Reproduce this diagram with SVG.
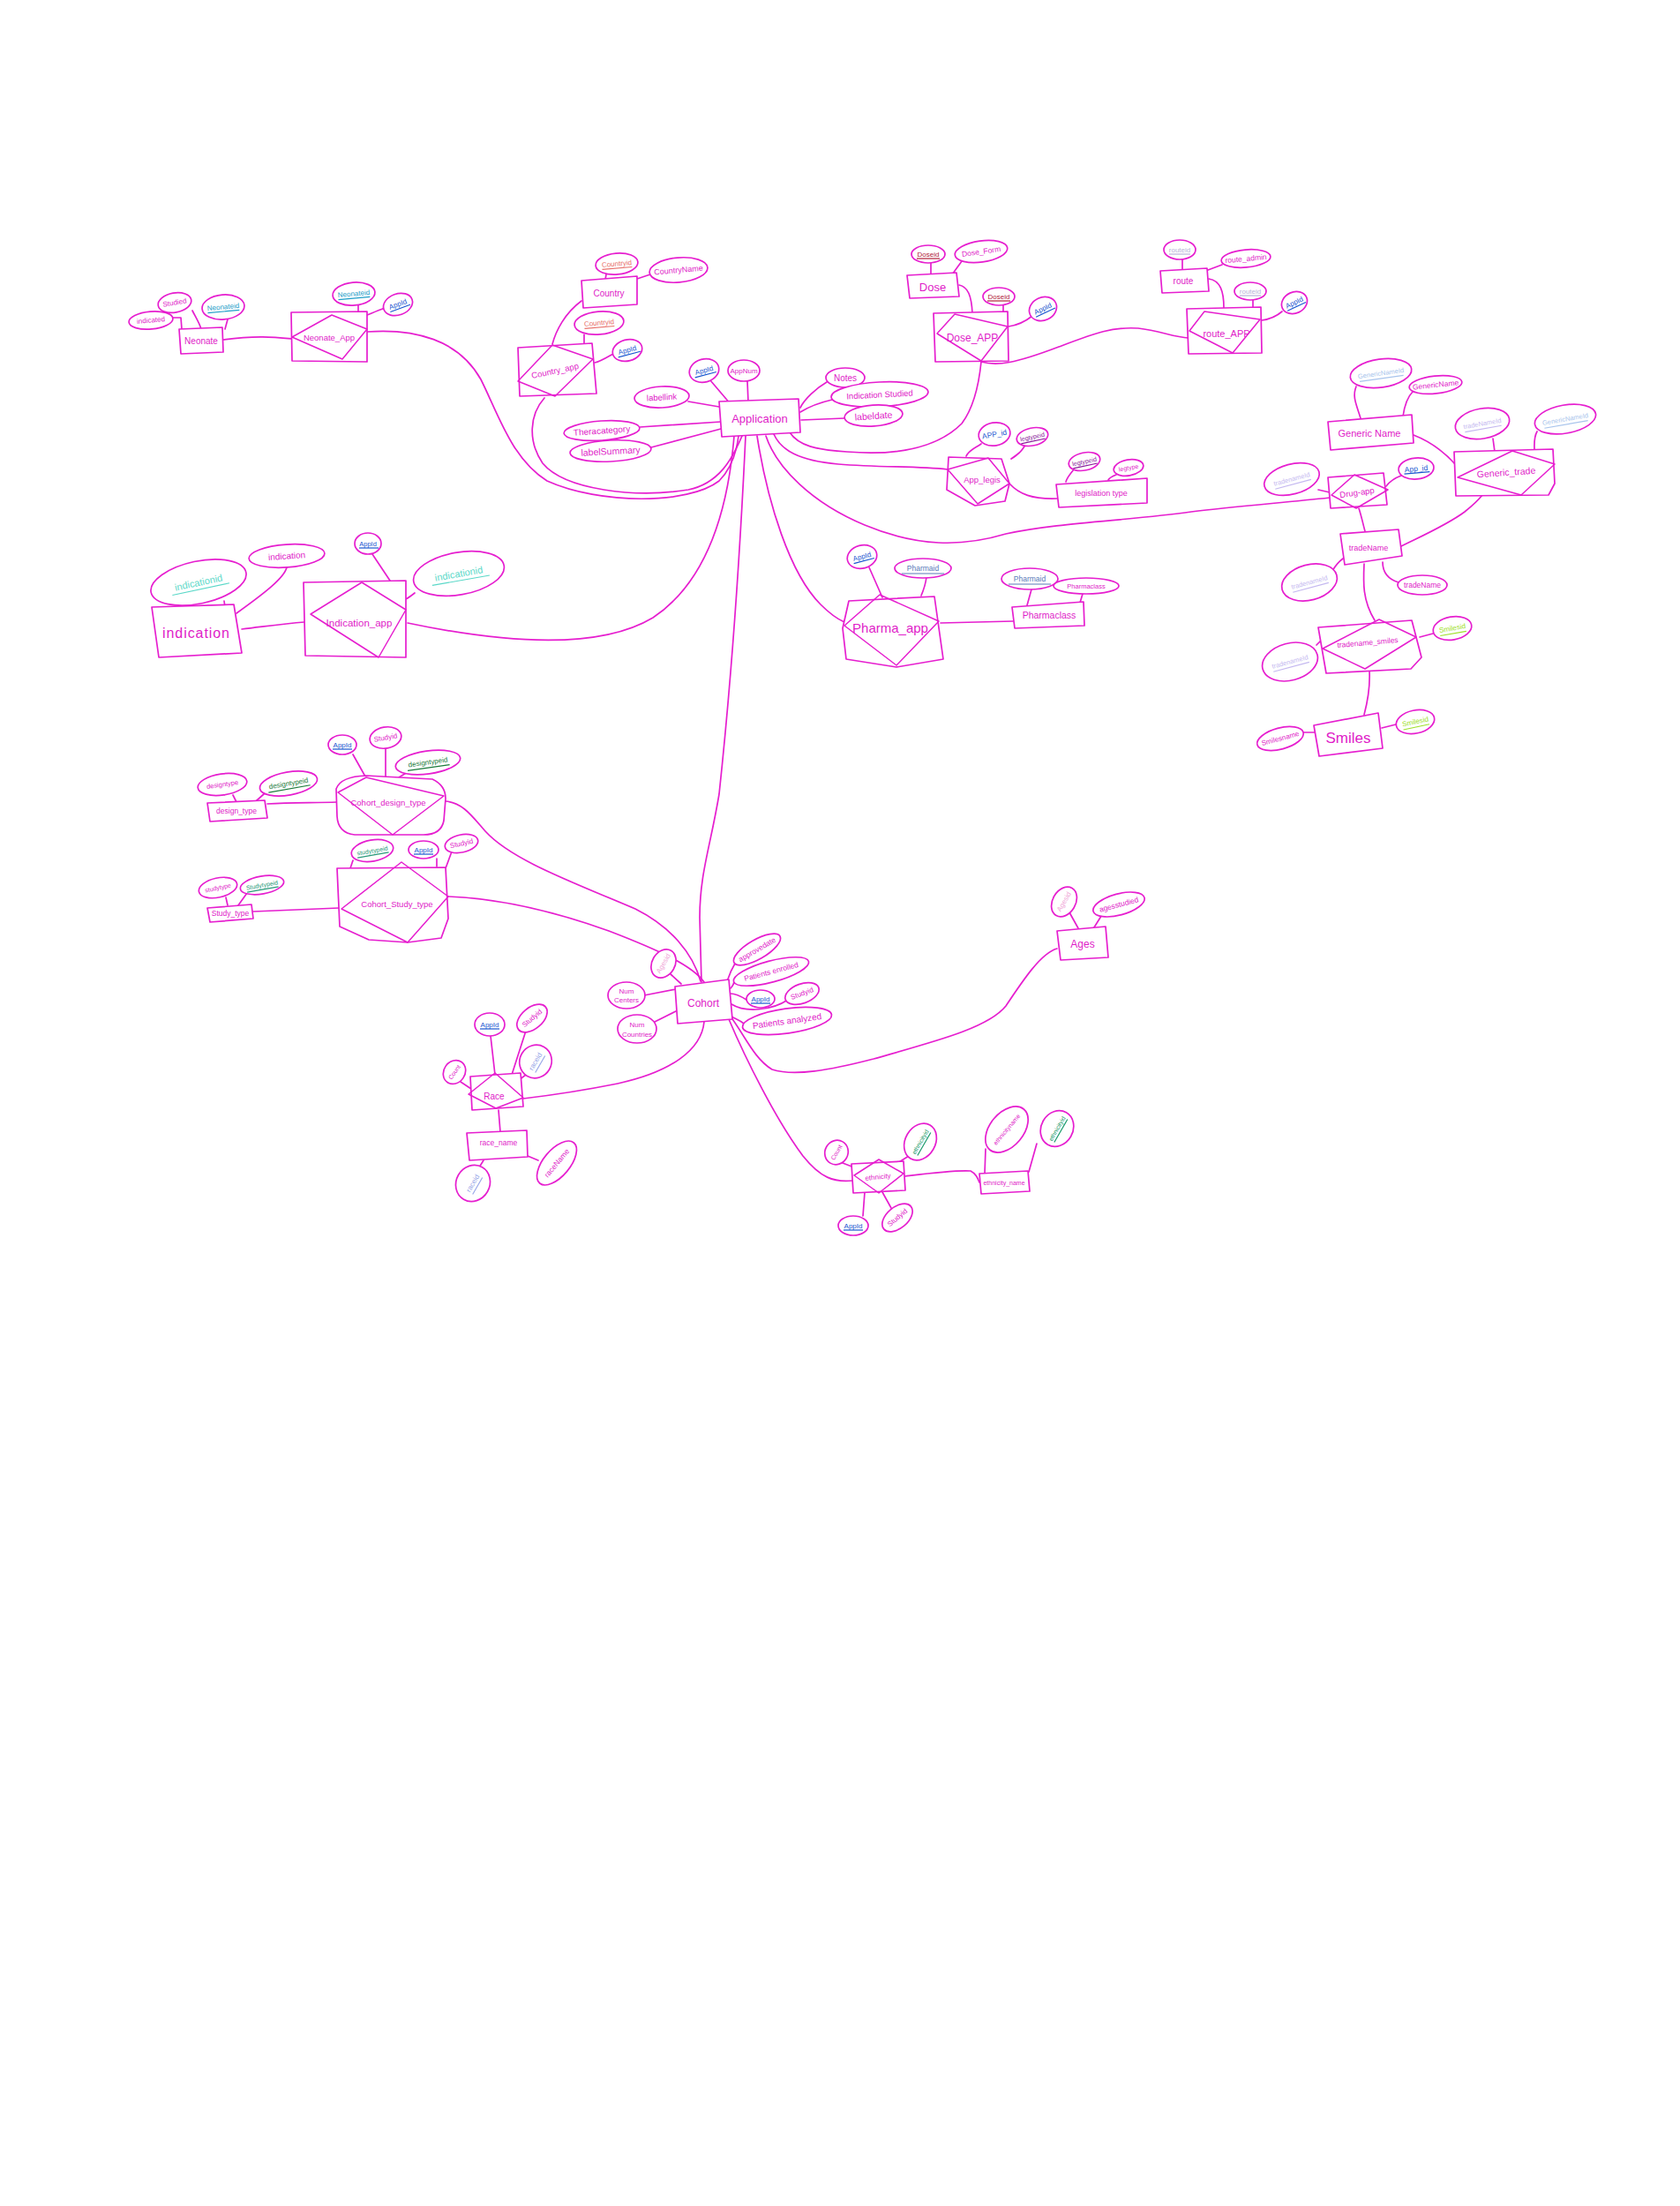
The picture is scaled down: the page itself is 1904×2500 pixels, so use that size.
<svg xmlns="http://www.w3.org/2000/svg" width="1904" height="2500" viewBox="0 0 1904 2500">
<style>
.l{fill:none;stroke:#e61ecf;stroke-width:1.7;stroke-linecap:round;stroke-linejoin:round}
.e{fill:#fff;stroke:#e61ecf;stroke-width:1.7}
.b{fill:#fff;stroke:#e61ecf;stroke-width:1.7;stroke-linejoin:round}
.d{fill:none;stroke:#e61ecf;stroke-width:1.5;stroke-linejoin:round}
.t{font-family:"Liberation Sans",sans-serif;fill:#e01cc8;text-anchor:middle;dominant-baseline:central}
.u{stroke-width:1.2}
</style>
<rect x="0" y="0" width="1904" height="2500" fill="#fff"/>
<g id="connectors" class="l">
<path d="M218,352 C222,360 226,366 228,373"/>
<path d="M196,360 L205,360 L206,373"/>
<path d="M258,362 L255,373"/>
<path d="M253,385 C290,380 310,382 331,384"/>
<path d="M406,346 L406,357"/>
<path d="M436,349 C428,352 421,355 416,357"/>
<path d="M416,376 C470,372 520,385 545,430 C565,470 580,520 620,545 C680,572 780,572 815,545 C830,530 835,510 837,494"/>
<path d="M687,311 L686,317"/>
<path d="M737,311 L722,316"/>
<path d="M659,341 C640,355 630,375 626,390"/>
<path d="M662,379 L662,390"/>
<path d="M695,401 C688,405 680,410 674,411"/>
<path d="M617,451 C600,470 598,500 615,525 C640,555 720,565 780,555 C815,548 830,520 841,494"/>
<path d="M780,455 L815,461"/>
<path d="M805,431 L828,458"/>
<path d="M847,432 L848,456"/>
<path d="M725,484 L817,478"/>
<path d="M738,507 L817,486"/>
<path d="M937,433 C925,440 912,452 907,462"/>
<path d="M943,453 C930,456 915,462 907,467"/>
<path d="M957,474 L908,476"/>
<path d="M832,494 C825,580 800,660 740,700 C690,730 600,735 462,706"/>
<path d="M845,494 C840,600 830,760 815,900 C805,960 793,990 793,1040 L795,1113"/>
<path d="M858,494 C870,570 895,650 930,685 C940,695 950,702 957,705"/>
<path d="M895,490 C905,505 925,510 960,512 C1010,516 1060,510 1090,480 C1105,460 1110,430 1112,410"/>
<path d="M877,492 C885,510 905,522 950,526 C1000,530 1040,528 1074,532"/>
<path d="M1112,410 C1130,415 1150,412 1200,393 C1240,378 1260,370 1290,372 C1315,375 1330,382 1347,383"/>
<path d="M868,494 C880,530 920,570 980,595 C1040,620 1090,620 1140,605 C1200,592 1280,590 1350,580 C1400,574 1450,570 1507,564"/>
<path d="M1055,298 L1055,311"/>
<path d="M1090,296 C1085,303 1082,307 1080,310"/>
<path d="M1087,323 C1097,325 1101,335 1102,355"/>
<path d="M1137,346 L1137,356"/>
<path d="M1170,358 C1160,366 1150,369 1143,370"/>
<path d="M1340,294 L1340,306"/>
<path d="M1385,300 L1369,306"/>
<path d="M1370,316 C1383,318 1387,330 1387,349"/>
<path d="M1420,340 L1420,350"/>
<path d="M1453,353 C1445,360 1437,362 1430,363"/>
<path d="M1112,503 C1105,508 1098,510 1095,517"/>
<path d="M1162,504 C1158,512 1152,516 1146,520"/>
<path d="M1144,548 C1155,560 1170,566 1198,565"/>
<path d="M1217,532 C1212,538 1209,542 1208,546"/>
<path d="M1265,538 C1260,540 1257,542 1256,544"/>
<path d="M1537,438 C1532,450 1538,460 1542,474"/>
<path d="M1601,444 C1593,452 1591,465 1590,472"/>
<path d="M1602,493 C1620,500 1635,510 1650,527"/>
<path d="M1692,497 L1694,512"/>
<path d="M1742,489 C1738,496 1739,504 1739,510"/>
<path d="M1494,555 L1507,558"/>
<path d="M1588,539 C1580,542 1574,547 1571,551"/>
<path d="M1540,576 C1543,585 1545,595 1547,602"/>
<path d="M1586,620 C1610,608 1640,595 1660,580 C1670,572 1676,566 1680,561"/>
<path d="M1510,647 C1514,640 1518,636 1522,633"/>
<path d="M1585,660 C1572,656 1567,648 1567,637"/>
<path d="M1546,639 C1545,660 1544,680 1558,703"/>
<path d="M1492,731 L1499,724"/>
<path d="M1624,718 L1609,722"/>
<path d="M1552,760 C1553,780 1550,795 1546,810"/>
<path d="M1582,821 L1566,825"/>
<path d="M1477,830 L1492,830"/>
<path d="M254,681 L255,688"/>
<path d="M325,643 C322,655 300,672 268,695"/>
<path d="M274,713 C300,710 320,707 345,705"/>
<path d="M422,628 L442,658"/>
<path d="M470,672 C465,676 462,678 460,679"/>
<path d="M985,643 L1000,677"/>
<path d="M1050,654 C1049,662 1047,668 1044,675"/>
<path d="M1066,706 L1148,704"/>
<path d="M1169,668 L1164,686"/>
<path d="M1227,673 L1224,683"/>
<path d="M303,911 C330,909 355,910 382,909"/>
<path d="M264,901 L268,909"/>
<path d="M300,899 L290,908"/>
<path d="M400,855 L414,880"/>
<path d="M437,848 L437,880"/>
<path d="M462,875 L452,881"/>
<path d="M505,908 C525,910 535,925 550,942 C580,975 650,1000 720,1030 C760,1050 785,1080 794,1112"/>
<path d="M400,975 L397,984"/>
<path d="M495,973 L495,982"/>
<path d="M512,965 L505,984"/>
<path d="M287,1033 L384,1029"/>
<path d="M256,1017 L258,1026"/>
<path d="M280,1012 L270,1026"/>
<path d="M508,1016 C560,1018 620,1030 690,1055 C750,1078 785,1095 798,1113"/>
<path d="M760,1104 L772,1115"/>
<path d="M730,1128 L766,1121"/>
<path d="M742,1158 L766,1146"/>
<path d="M834,1090 C828,1100 826,1106 824,1112"/>
<path d="M832,1111 C832,1116 830,1118 828,1120"/>
<path d="M846,1133 C838,1128 832,1126 828,1126"/>
<path d="M893,1133 C875,1145 845,1148 829,1138"/>
<path d="M843,1160 C838,1156 832,1154 829,1152"/>
<path d="M1212,1034 L1222,1052"/>
<path d="M1250,1035 L1240,1051"/>
<path d="M1198,1075 C1180,1080 1160,1110 1140,1140 C1120,1165 1060,1180 990,1200 C940,1213 900,1220 875,1212 C855,1200 845,1175 828,1152"/>
<path d="M798,1158 C795,1190 760,1215 700,1228 C650,1238 610,1243 593,1245"/>
<path d="M556,1174 L561,1218"/>
<path d="M597,1165 L580,1218"/>
<path d="M596,1218 L588,1224"/>
<path d="M522,1226 L534,1234"/>
<path d="M565,1258 L567,1283"/>
<path d="M598,1310 L610,1315"/>
<path d="M548,1315 L543,1323"/>
<path d="M826,1155 C845,1200 880,1270 910,1310 C930,1335 945,1340 966,1338"/>
<path d="M955,1318 L968,1323"/>
<path d="M1030,1310 L1014,1320"/>
<path d="M980,1351 L978,1378"/>
<path d="M1000,1351 L1010,1369"/>
<path d="M1026,1333 C1050,1330 1080,1326 1100,1327 C1106,1330 1108,1335 1110,1340"/>
<path d="M1117,1302 L1116,1330"/>
<path d="M1175,1296 L1166,1328"/>
</g>

<!-- entities and relationships -->
<g id="Neonate"><path class="b" d="M203,373 L252,371 L253,399 L205,401 Z"/><text class="t" x="228" y="386" font-size="10">Neonate</text></g>
<g id="Neonate_App"><path class="b" d="M330,354 L416,353 L416,410 L331,409 Z"/><path class="d" d="M331,382 L376,357 L416,373 L388,407 Z"/><text class="t" x="373" y="382" font-size="9.5">Neonate_App</text></g>
<g id="Country"><path class="b" d="M659,318 L722,313 L722,345 L661,349 Z"/><text class="t" x="690" y="332" font-size="10">Country</text></g>
<g id="Country_app"><path class="b" d="M587,394 L671,389 L676,446 L589,449 Z"/><path class="d" d="M587,432 L626,391 L672,407 L629,449 Z"/><text class="t" x="629" y="420" font-size="9.5" transform="rotate(-12 629 420)">Country_app</text></g>
<g id="Application"><path class="b" d="M815,455 L905,452 L907,490 L818,495 Z"/><text class="t" x="861" y="474" font-size="13">Application</text></g>
<g id="Dose"><path class="b" d="M1028,312 L1084,309 L1087,336 L1031,338 Z"/><text class="t" x="1057" y="325" font-size="13">Dose</text></g>
<g id="Dose_APP"><path class="b" d="M1058,355 L1142,353 L1143,409 L1060,410 Z"/><path class="d" d="M1062,378 L1082,356 L1142,370 L1112,409 Z"/><text class="t" x="1102" y="383" font-size="12">Dose_APP</text></g>
<g id="route"><path class="b" d="M1315,307 L1368,304 L1370,330 L1317,332 Z"/><text class="t" x="1341" y="318" font-size="10">route</text></g>
<g id="route_APP"><path class="b" d="M1345,350 L1429,348 L1430,400 L1347,401 Z"/><path class="d" d="M1348,375 L1365,353 L1428,362 L1397,400 Z"/><text class="t" x="1390" y="378" font-size="11">route_APP</text></g>
<g id="App_legis"><path class="b" d="M1075,518 L1135,520 L1144,548 L1139,568 L1105,573 L1073,555 Z"/><path class="d" d="M1074,532 L1120,519 L1144,548 L1108,571 Z"/><text class="t" x="1113" y="543" font-size="9.5">App_legis</text></g>
<g id="legislation_type"><path class="b" d="M1197,549 L1300,542 L1300,570 L1200,575 Z"/><text class="t" x="1248" y="559" font-size="9">legislation type</text></g>
<g id="Generic_Name"><path class="b" d="M1505,478 L1600,470 L1602,502 L1508,510 Z"/><text class="t" x="1552" y="491" font-size="11">Generic Name</text></g>
<g id="Generic_trade"><path class="b" d="M1648,512 L1760,509 L1762,548 L1755,561 L1650,562 Z"/><path class="d" d="M1652,541 L1714,511 L1762,526 L1724,561 Z"/><text class="t" x="1707" y="535" font-size="10.5" transform="rotate(-4 1707 535)">Generic_trade</text></g>
<g id="Drug_app"><path class="b" d="M1505,541 L1568,536 L1572,572 L1508,576 Z"/><path class="d" d="M1509,561 L1535,538 L1573,555 L1537,576 Z"/><text class="t" x="1538" y="558" font-size="9.5" transform="rotate(-8 1538 558)">Drug-app</text></g>
<g id="tradeName"><path class="b" d="M1519,605 L1585,600 L1589,630 L1524,640 Z"/><text class="t" x="1551" y="621" font-size="9">tradeName</text></g>
<g id="tradename_smiles"><path class="b" d="M1494,711 L1600,703 L1611,745 L1599,758 L1503,763 Z"/><path class="d" d="M1499,735 L1563,702 L1605,722 L1547,758 Z"/><text class="t" x="1550" y="728" font-size="8.5" transform="rotate(-5 1550 728)">tradename_smiles</text></g>
<g id="Smiles"><path class="b" d="M1489,822 L1562,808 L1567,848 L1495,857 Z"/><text class="t" x="1528" y="836" font-size="17">Smiles</text></g>
<g id="indication"><path class="b" d="M172,688 L265,685 L274,740 L180,745 Z"/><text class="t" x="222" y="717" font-size="16" textLength="76">indication</text></g>
<g id="Indication_app"><path class="b" d="M344,660 L460,658 L460,745 L346,743 Z"/><path class="d" d="M352,696 L410,660 L460,691 L429,745 Z"/><text class="t" x="407" y="706" font-size="11.5">Indication_app</text></g>
<g id="Pharma_app"><path class="b" d="M962,681 L1059,676 L1069,747 L1016,756 L959,747 L955,712 Z"/><path class="d" d="M957,709 L997,674 L1064,704 L1016,754 Z"/><text class="t" x="1009" y="711" font-size="15">Pharma_app</text></g>
<g id="Pharmaclass"><path class="b" d="M1147,688 L1228,682 L1229,709 L1150,712 Z"/><text class="t" x="1189" y="697" font-size="10.5">Pharmaclass</text></g>
<g id="design_type"><path class="b" d="M235,910 L300,907 L303,927 L238,931 Z"/><text class="t" x="268" y="919" font-size="8.5">design_type</text></g>
<g id="Cohort_design_type"><path class="b" d="M381,894 Q386,880 415,879 L490,883 Q505,890 505,905 L503,930 Q500,946 480,946 L402,946 Q383,944 382,925 Z"/><path class="d" d="M383,898 L415,881 L503,902 L445,946 Z"/><text class="t" x="440" y="909" font-size="9.5">Cohort_design_type</text></g>
<g id="Study_type"><path class="b" d="M235,1029 L285,1025 L287,1041 L238,1045 Z"/><text class="t" x="261" y="1035" font-size="8.5">Study_type</text></g>
<g id="Cohort_Study_type"><path class="b" d="M382,984 L505,983 L508,1041 L500,1063 L462,1068 L418,1065 L385,1050 Z"/><path class="d" d="M387,1030 L455,977 L508,1016 L462,1068 Z"/><text class="t" x="450" y="1024" font-size="9.5">Cohort_Study_type</text></g>
<g id="Cohort"><path class="b" d="M765,1118 L826,1110 L830,1155 L768,1160 Z"/><text class="t" x="797" y="1137" font-size="12">Cohort</text></g>
<g id="Ages"><path class="b" d="M1198,1055 L1253,1050 L1256,1085 L1202,1088 Z"/><text class="t" x="1227" y="1070" font-size="12">Ages</text></g>
<g id="Race"><path class="b" d="M533,1220 L590,1216 L593,1254 L535,1258 Z"/><path class="d" d="M531,1240 L561,1216 L593,1244 L562,1256 Z"/><text class="t" x="560" y="1242" font-size="10">Race</text></g>
<g id="race_name"><path class="b" d="M529,1284 L597,1281 L598,1311 L532,1315 Z"/><text class="t" x="565" y="1295" font-size="8.5">race_name</text></g>
<g id="ethnicity"><path class="b" d="M965,1319 L1024,1316 L1026,1349 L967,1352 Z"/><path class="d" d="M968,1332 L996,1314 L1024,1330 L996,1352 Z"/><text class="t" x="995" y="1334" font-size="8" transform="rotate(-6 995 1334)">ethnicity</text></g>
<g id="ethnicity_name"><path class="b" d="M1110,1330 L1165,1327 L1167,1350 L1112,1353 Z"/><text class="t" x="1138" y="1340" font-size="7">ethnicity_name</text></g>

<!-- attributes -->
<g id="n_studied" transform="translate(198,343) rotate(-10)"><ellipse class="e" rx="19" ry="11"/><text class="t" font-size="8">Studied</text></g>
<g id="n_indicated" transform="translate(171,363) rotate(-5)"><ellipse class="e" rx="25" ry="10"/><text class="t" font-size="8">indicated</text></g>
<g id="n_neonateid" transform="translate(253,348) rotate(-5)"><ellipse class="e" rx="24" ry="14"/><text class="t" font-size="8" fill="#1e9ec8" style="fill:#1e9ec8">Neonateid</text><line class="u" x1="-18" x2="18" y1="5" y2="5" stroke="#1e9ec8"/></g>
<g id="na_neonateid" transform="translate(401,333) rotate(-5)"><ellipse class="e" rx="24" ry="13"/><text class="t" font-size="8" style="fill:#1e9ec8">Neonateid</text><line class="u" x1="-18" x2="18" y1="5" y2="5" stroke="#1e9ec8"/></g>
<g id="na_appid" transform="translate(451,345) rotate(-20)"><ellipse class="e" rx="17" ry="12"/><text class="t" font-size="8" style="fill:#1a56d0">AppId</text><line class="u" x1="-11" x2="13" y1="5" y2="5" stroke="#1a56d0"/></g>

<g id="c_countryid" transform="translate(699,299) rotate(-5)"><ellipse class="e" rx="24" ry="12"/><text class="t" font-size="8" style="fill:#e8706a">Countryid</text><line class="u" x1="-17" x2="17" y1="5" y2="5" stroke="#e8706a"/></g>
<g id="c_countryname" transform="translate(769,306) rotate(-5)"><ellipse class="e" rx="33" ry="14"/><text class="t" font-size="9">CountryName</text></g>
<g id="ca_countryid" transform="translate(679,366) rotate(-5)"><ellipse class="e" rx="28" ry="13"/><text class="t" font-size="8" style="fill:#e8706a">Countryid</text><line class="u" x1="-17" x2="17" y1="5" y2="5" stroke="#e8706a"/></g>
<g id="ca_appid" transform="translate(711,397) rotate(-15)"><ellipse class="e" rx="17" ry="12"/><text class="t" font-size="8" style="fill:#1a56d0">AppId</text><line class="u" x1="-12" x2="14" y1="5" y2="5" stroke="#1a56d0"/></g>

<g id="a_appid" transform="translate(798,420) rotate(-15)"><ellipse class="e" rx="17" ry="13"/><text class="t" font-size="8" style="fill:#1a56d0">AppId</text><line class="u" x1="-12" x2="13" y1="5" y2="5" stroke="#1a56d0"/></g>
<g id="a_appnum" transform="translate(843,420)"><ellipse class="e" rx="18" ry="12"/><text class="t" font-size="8">AppNum</text></g>
<g id="a_labellink" transform="translate(750,450) rotate(-3)"><ellipse class="e" rx="31" ry="12"/><text class="t" font-size="9.5">labellink</text></g>
<g id="a_theracategory" transform="translate(682,488) rotate(-4)"><ellipse class="e" rx="43" ry="11"/><text class="t" font-size="10">Theracategory</text></g>
<g id="a_labelsummary" transform="translate(692,511) rotate(-3)"><ellipse class="e" rx="46" ry="12"/><text class="t" font-size="10.5">labelSummary</text></g>
<g id="a_notes" transform="translate(958,428)"><ellipse class="e" rx="22" ry="11"/><text class="t" font-size="10">Notes</text></g>
<g id="a_indstudied" transform="translate(997,447) rotate(-3)"><ellipse class="e" rx="55" ry="14"/><text class="t" font-size="9.5">Indication  Studied</text></g>
<g id="a_labeldate" transform="translate(990,471) rotate(-4)"><ellipse class="e" rx="33" ry="12"/><text class="t" font-size="10.5">labeldate</text></g>

<g id="d_doseid" transform="translate(1052,288)"><ellipse class="e" rx="19" ry="10"/><text class="t" font-size="8" style="fill:#b0203a">Doseid</text><line class="u" x1="-13" x2="13" y1="5" y2="5" stroke="#b0203a"/></g>
<g id="d_doseform" transform="translate(1112,285) rotate(-8)"><ellipse class="e" rx="30" ry="12"/><text class="t" font-size="8.5">Dose_Form</text></g>
<g id="da_doseid" transform="translate(1132,336)"><ellipse class="e" rx="18" ry="10"/><text class="t" font-size="8" style="fill:#b0203a">Doseid</text><line class="u" x1="-13" x2="13" y1="5" y2="5" stroke="#b0203a"/></g>
<g id="da_appid" transform="translate(1182,350) rotate(-25)"><ellipse class="e" rx="16" ry="13"/><text class="t" font-size="8" style="fill:#1a56d0">AppId</text><line class="u" x1="-11" x2="13" y1="5" y2="5" stroke="#1a56d0"/></g>

<g id="r_routeid" transform="translate(1337,283)"><ellipse class="e" rx="18" ry="11"/><text class="t" font-size="8" style="fill:#b8b4d8">routeid</text><line class="u" x1="-12" x2="12" y1="5" y2="5" stroke="#b8b4d8"/></g>
<g id="r_routeadmin" transform="translate(1412,293) rotate(-5)"><ellipse class="e" rx="28" ry="10"/><text class="t" font-size="8.5">route_admin</text></g>
<g id="ra_routeid" transform="translate(1417,330)"><ellipse class="e" rx="18" ry="10"/><text class="t" font-size="8" style="fill:#b8b4d8">routeid</text><line class="u" x1="-12" x2="12" y1="5" y2="5" stroke="#b8b4d8"/></g>
<g id="ra_appid" transform="translate(1467,343) rotate(-25)"><ellipse class="e" rx="15" ry="12"/><text class="t" font-size="8" style="fill:#1a56d0">AppId</text><line class="u" x1="-11" x2="12" y1="5" y2="5" stroke="#1a56d0"/></g>

<g id="l_appid" transform="translate(1127,492) rotate(-10)"><ellipse class="e" rx="18" ry="13"/><text class="t" font-size="8.5" style="fill:#1a56d0">APP_id</text></g>
<g id="l_legtypeid" transform="translate(1170,495) rotate(-12)"><ellipse class="e" rx="18" ry="10"/><text class="t" font-size="7" style="fill:#8a1a9a">legtypeid</text><line class="u" x1="-14" x2="14" y1="5" y2="5" stroke="#8a1a9a"/></g>
<g id="lt_legtypeid" transform="translate(1229,523) rotate(-12)"><ellipse class="e" rx="18" ry="10"/><text class="t" font-size="7" style="fill:#8a1a9a">legtypeid</text><line class="u" x1="-14" x2="14" y1="5" y2="5" stroke="#8a1a9a"/></g>
<g id="lt_legtype" transform="translate(1279,530) rotate(-10)"><ellipse class="e" rx="17" ry="9"/><text class="t" font-size="7">legtype</text></g>

<g id="g_gnid" transform="translate(1565,423) rotate(-8)"><ellipse class="e" rx="35" ry="16"/><text class="t" font-size="7.5" style="fill:#a8c4ec">GenericNameId</text><line class="u" x1="-25" x2="25" y1="6" y2="6" stroke="#a8c4ec"/></g>
<g id="g_gname" transform="translate(1627,436) rotate(-6)"><ellipse class="e" rx="30" ry="10"/><text class="t" font-size="8.5">GenericName</text></g>
<g id="gt_tnid" transform="translate(1680,480) rotate(-10)"><ellipse class="e" rx="31" ry="17"/><text class="t" font-size="7.5" style="fill:#c4b8f0">tradeNameId</text><line class="u" x1="-21" x2="21" y1="6" y2="6" stroke="#c4b8f0"/></g>
<g id="gt_gnid" transform="translate(1774,475) rotate(-10)"><ellipse class="e" rx="35" ry="16"/><text class="t" font-size="7.5" style="fill:#a8c4ec">GenericNameId</text><line class="u" x1="-25" x2="25" y1="6" y2="6" stroke="#a8c4ec"/></g>
<g id="dr_tnid" transform="translate(1464,543) rotate(-15)"><ellipse class="e" rx="32" ry="17"/><text class="t" font-size="7.5" style="fill:#c4b8f0">tradenameId</text><line class="u" x1="-21" x2="21" y1="6" y2="6" stroke="#c4b8f0"/></g>
<g id="dr_appid" transform="translate(1605,531) rotate(-5)"><ellipse class="e" rx="20" ry="12"/><text class="t" font-size="8.5" style="fill:#1a56d0">App_id</text><line class="u" x1="-14" x2="15" y1="5" y2="5" stroke="#1a56d0"/></g>

<g id="t_tnid" transform="translate(1484,660) rotate(-15)"><ellipse class="e" rx="32" ry="20"/><text class="t" font-size="7.5" style="fill:#c4b8f0">tradenameId</text><line class="u" x1="-21" x2="21" y1="6" y2="6" stroke="#c4b8f0"/></g>
<g id="t_tname" transform="translate(1612,663)"><ellipse class="e" rx="28" ry="11"/><text class="t" font-size="8.5">tradeName</text></g>
<g id="ts_tnid" transform="translate(1462,750) rotate(-15)"><ellipse class="e" rx="32" ry="21"/><text class="t" font-size="7.5" style="fill:#c4b8f0">tradenameId</text><line class="u" x1="-21" x2="21" y1="6" y2="6" stroke="#c4b8f0"/></g>
<g id="ts_smilesid" transform="translate(1646,712) rotate(-10)"><ellipse class="e" rx="22" ry="13"/><text class="t" font-size="8" style="fill:#9ee02a">Smilesid</text><line class="u" x1="-15" x2="15" y1="6" y2="6" stroke="#9ee02a"/></g>
<g id="s_smilesid" transform="translate(1604,818) rotate(-12)"><ellipse class="e" rx="22" ry="13"/><text class="t" font-size="8" style="fill:#9ee02a">Smilesid</text><line class="u" x1="-15" x2="15" y1="6" y2="6" stroke="#9ee02a"/></g>
<g id="s_smilesname" transform="translate(1451,837) rotate(-15)"><ellipse class="e" rx="27" ry="12"/><text class="t" font-size="8">Smilesname</text></g>

<g id="i_indid" transform="translate(225,660) rotate(-12)"><ellipse class="e" rx="55" ry="24"/><text class="t" font-size="11" style="fill:#5ad8c8">indicationid</text><line class="u" x1="-32" x2="34" y1="8" y2="8" stroke="#5ad8c8"/></g>
<g id="i_ind" transform="translate(325,630) rotate(-4)"><ellipse class="e" rx="43" ry="13"/><text class="t" font-size="10">indication</text></g>
<g id="ia_appid" transform="translate(417,616)"><ellipse class="e" rx="15" ry="12"/><text class="t" font-size="7.5" style="fill:#1a56d0">AppId</text><line class="u" x1="-10" x2="12" y1="5" y2="5" stroke="#1a56d0"/></g>
<g id="ia_indid" transform="translate(520,650) rotate(-10)"><ellipse class="e" rx="52" ry="24"/><text class="t" font-size="11" style="fill:#5ad8c8">indicationid</text><line class="u" x1="-32" x2="34" y1="8" y2="8" stroke="#5ad8c8"/></g>

<g id="p_appid" transform="translate(977,631) rotate(-15)"><ellipse class="e" rx="17" ry="13"/><text class="t" font-size="8" style="fill:#1a56d0">AppId</text><line class="u" x1="-11" x2="13" y1="5" y2="5" stroke="#1a56d0"/></g>
<g id="p_pharmaid" transform="translate(1046,644)"><ellipse class="e" rx="32" ry="11"/><text class="t" font-size="8.5" style="fill:#5a7ab8">Pharmaid</text><line class="u" x1="-24" x2="24" y1="6" y2="6" stroke="#5a7ab8"/></g>
<g id="pc_pharmaid" transform="translate(1167,656)"><ellipse class="e" rx="32" ry="12"/><text class="t" font-size="8.5" style="fill:#5a7ab8">Pharmaid</text><line class="u" x1="-24" x2="24" y1="6" y2="6" stroke="#5a7ab8"/></g>
<g id="pc_pharmaclass" transform="translate(1231,664)"><ellipse class="e" rx="37" ry="9"/><text class="t" font-size="7.5">Pharmaclass</text></g>

<g id="cd_appid" transform="translate(388,844)"><ellipse class="e" rx="16" ry="11"/><text class="t" font-size="8" style="fill:#1a56d0">AppId</text><line class="u" x1="-11" x2="11" y1="5" y2="5" stroke="#1a56d0"/></g>
<g id="cd_studyid" transform="translate(437,836) rotate(-10)"><ellipse class="e" rx="18" ry="12"/><text class="t" font-size="8">Studyid</text></g>
<g id="cd_dtid" transform="translate(485,864) rotate(-8)"><ellipse class="e" rx="37" ry="13"/><text class="t" font-size="8" style="fill:#1a7a3a">designtypeid</text><line class="u" x1="-24" x2="24" y1="6" y2="6" stroke="#1a7a3a"/></g>
<g id="dt_designtype" transform="translate(252,889) rotate(-8)"><ellipse class="e" rx="28" ry="12"/><text class="t" font-size="7.5">designtype</text></g>
<g id="dt_dtid" transform="translate(327,888) rotate(-10)"><ellipse class="e" rx="33" ry="13"/><text class="t" font-size="8" style="fill:#1a7a3a">designtypeid</text><line class="u" x1="-24" x2="24" y1="6" y2="6" stroke="#1a7a3a"/></g>
<g id="cs_stid" transform="translate(422,964) rotate(-10)"><ellipse class="e" rx="24" ry="12"/><text class="t" font-size="7" style="fill:#2a9a7a">studytypeid</text><line class="u" x1="-18" x2="18" y1="5" y2="5" stroke="#2a9a7a"/></g>
<g id="cs_appid" transform="translate(480,963)"><ellipse class="e" rx="17" ry="10"/><text class="t" font-size="8" style="fill:#1a56d0">AppId</text><line class="u" x1="-11" x2="11" y1="5" y2="5" stroke="#1a56d0"/></g>
<g id="cs_studyid" transform="translate(523,956) rotate(-12)"><ellipse class="e" rx="19" ry="10"/><text class="t" font-size="8">Studyid</text></g>
<g id="st_studytype" transform="translate(247,1006) rotate(-12)"><ellipse class="e" rx="22" ry="11"/><text class="t" font-size="7">studytype</text></g>
<g id="st_stid" transform="translate(297,1003) rotate(-10)"><ellipse class="e" rx="25" ry="10"/><text class="t" font-size="7" style="fill:#2a9a7a">Studytypeid</text><line class="u" x1="-18" x2="18" y1="5" y2="5" stroke="#2a9a7a"/></g>

<g id="co_agesid" transform="translate(752,1092) rotate(-60)"><ellipse class="e" rx="17" ry="13"/><text class="t" font-size="8" style="fill:#f0a8d8">Agesid</text></g>
<g id="co_numcenters" transform="translate(710,1128)"><ellipse class="e" rx="21" ry="15"/><text class="t" font-size="8" y="-5">Num</text><text class="t" font-size="8" y="5">Centers</text></g>
<g id="co_numcountries" transform="translate(722,1166)"><ellipse class="e" rx="22" ry="16"/><text class="t" font-size="8" y="-5">Num</text><text class="t" font-size="8" y="6">Countries</text></g>
<g id="co_approvedate" transform="translate(858,1076) rotate(-30)"><ellipse class="e" rx="30" ry="11"/><text class="t" font-size="8.5">approvedate</text></g>
<g id="co_penrolled" transform="translate(874,1101) rotate(-15)"><ellipse class="e" rx="44" ry="12"/><text class="t" font-size="8.5">Patients enrolled</text></g>
<g id="co_appid" transform="translate(862,1132)"><ellipse class="e" rx="16" ry="10"/><text class="t" font-size="8" style="fill:#1a56d0">AppId</text><line class="u" x1="-11" x2="11" y1="5" y2="5" stroke="#1a56d0"/></g>
<g id="co_studyid" transform="translate(909,1126) rotate(-20)"><ellipse class="e" rx="20" ry="11"/><text class="t" font-size="8">Studyid</text></g>
<g id="co_panalyzed" transform="translate(892,1157) rotate(-8)"><ellipse class="e" rx="51" ry="14"/><text class="t" font-size="10">Patients analyzed</text></g>
<g id="ag_agesid" transform="translate(1206,1022) rotate(-60)"><ellipse class="e" rx="18" ry="13"/><text class="t" font-size="8" style="fill:#f0a8d8">Agesid</text></g>
<g id="ag_agesstudied" transform="translate(1268,1025) rotate(-15)"><ellipse class="e" rx="30" ry="12"/><text class="t" font-size="8.5">agesstudied</text></g>

<g id="ra_appid2" transform="translate(555,1161)"><ellipse class="e" rx="17" ry="13"/><text class="t" font-size="8" style="fill:#1a56d0">AppId</text><line class="u" x1="-11" x2="11" y1="5" y2="5" stroke="#1a56d0"/></g>
<g id="ra_studyid" transform="translate(603,1154) rotate(-40)"><ellipse class="e" rx="20" ry="12"/><text class="t" font-size="8">Studyid</text></g>
<g id="ra_raceid" transform="translate(607,1203) rotate(-60)"><ellipse class="e" rx="19" ry="18"/><text class="t" font-size="8" style="fill:#9aa8e8">raceid</text><line class="u" x1="-11" x2="11" y1="6" y2="6" stroke="#9aa8e8"/></g>
<g id="ra_count" transform="translate(515,1215) rotate(-55)"><ellipse class="e" rx="14" ry="12"/><text class="t" font-size="7">Count</text></g>
<g id="rn_raceid" transform="translate(536,1341) rotate(-60)"><ellipse class="e" rx="21" ry="19"/><text class="t" font-size="8" style="fill:#9aa8e8">raceid</text><line class="u" x1="-11" x2="11" y1="6" y2="6" stroke="#9aa8e8"/></g>
<g id="rn_racename" transform="translate(631,1318) rotate(-50)"><ellipse class="e" rx="30" ry="15"/><text class="t" font-size="8.5">raceName</text></g>
<g id="et_count" transform="translate(948,1306) rotate(-60)"><ellipse class="e" rx="14" ry="13"/><text class="t" font-size="7">Count</text></g>
<g id="et_ethid" transform="translate(1043,1294) rotate(-60)"><ellipse class="e" rx="22" ry="17"/><text class="t" font-size="7" style="fill:#1a9a6a">ethnicityid</text><line class="u" x1="-15" x2="15" y1="5" y2="5" stroke="#1a9a6a"/></g>
<g id="et_appid" transform="translate(967,1389)"><ellipse class="e" rx="17" ry="11"/><text class="t" font-size="8" style="fill:#1a56d0">AppId</text><line class="u" x1="-11" x2="11" y1="5" y2="5" stroke="#1a56d0"/></g>
<g id="et_studyid" transform="translate(1017,1380) rotate(-40)"><ellipse class="e" rx="20" ry="12"/><text class="t" font-size="8">Studyid</text></g>
<g id="en_ethname" transform="translate(1141,1280) rotate(-50)"><ellipse class="e" rx="30" ry="19"/><text class="t" font-size="7">ethnicityname</text></g>
<g id="en_ethid" transform="translate(1198,1279) rotate(-60)"><ellipse class="e" rx="21" ry="18"/><text class="t" font-size="7" style="fill:#1a9a6a">ethnicityid</text><line class="u" x1="-15" x2="15" y1="5" y2="5" stroke="#1a9a6a"/></g>
</svg>
